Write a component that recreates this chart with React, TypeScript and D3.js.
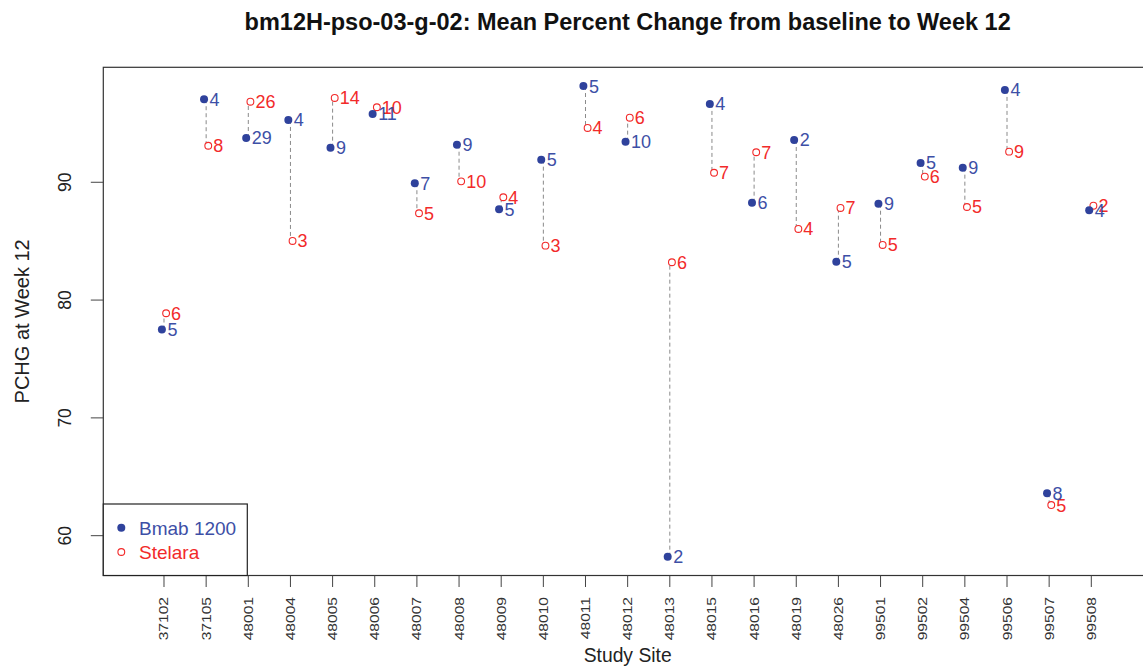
import React from "react";
import * as d3 from "d3";

// Study sites along the x axis
const sites = [
  "37102", "37105", "48001", "48004", "48005", "48006", "48007", "48008",
  "48009", "48010", "48011", "48012", "48013", "48015", "48016", "48019",
  "48026", "99501", "99502", "99504", "99506", "99507", "99508",
];

// Mean percent change at week 12 per site, Bmab 1200 arm
const bmabMean = [
  77.5, 97.05, 93.76, 95.29, 92.94, 95.8, 89.92, 93.19, 87.71, 91.92, 98.17,
  93.45, 58.22, 96.65, 88.27, 93.59, 83.26, 88.18, 91.64, 91.24, 97.84, 63.6,
  87.62,
];
// Number of subjects per site, Bmab 1200 arm
const bmabN = [5, 4, 29, 4, 9, 11, 7, 9, 5, 5, 5, 10, 2, 4, 6, 2, 5, 9, 5, 9, 4, 8, 4];

// Mean percent change at week 12 per site, Stelara arm
const stelaraMean = [
  78.88, 93.1, 96.84, 85.02, 97.16, 96.37, 87.37, 90.08, 88.73, 84.62, 94.61,
  95.48, 83.21, 90.81, 92.55, 86.04, 87.82, 84.68, 90.48, 87.9, 92.6, 62.6,
  88.01,
];
// Number of subjects per site, Stelara arm
const stelaraN = [6, 8, 26, 3, 14, 10, 5, 10, 4, 3, 4, 6, 6, 7, 7, 4, 7, 5, 6, 5, 9, 5, 2];

const yTicks = [60, 70, 80, 90];

const W = 1143;
const H = 667;
const plot = { left: 103.3, top: 67.3, right: 1152, bottom: 575.5 };

const BLUE = "#2f429c";
const BLUE_TEXT = "#3d4fa6";
const RED = "#f22a2a";
const FONT = "'Liberation Sans', Arial, Helvetica, sans-serif";

export default function App() {
  const x = d3
    .scaleLinear()
    .domain([-1.44, 23.44])
    .range([plot.left, plot.right]);
  const y = d3
    .scaleLinear()
    .domain([56.62, 99.76])
    .range([plot.bottom, plot.top]);

  const dx = 0.05; // small horizontal dodge between the two arms

  return (
    <div style={{ position: "absolute", left: 0, top: 0 }}>
      <svg
        width={W}
        height={H}
        viewBox={`0 0 ${W} ${H}`}
        style={{ display: "block", background: "#fff", overflow: "hidden" }}
        fontFamily={FONT}
      >
        {/* title */}
        <text
          x={(plot.left + plot.right) / 2}
          y={30}
          textAnchor="middle"
          fontWeight="bold"
          fontSize={23.5}
          fill="#111"
        >
          bm12H-pso-03-g-02: Mean Percent Change from baseline to Week 12
        </text>

        {/* connecting dashed segments */}
        {sites.map((s, i) => (
          <line
            key={"seg" + s}
            x1={x(i)}
            x2={x(i)}
            y1={y(bmabMean[i])}
            y2={y(stelaraMean[i])}
            stroke="#8a8a8a"
            strokeWidth={1}
            strokeDasharray="4,3"
          />
        ))}

        {/* Stelara points and labels */}
        {sites.map((s, i) => (
          <g key={"st" + s}>
            <circle
              cx={x(i + dx)}
              cy={y(stelaraMean[i])}
              r={3.4}
              fill="#fff"
              stroke={RED}
              strokeWidth={1.1}
            />
            <text
              x={x(i + dx) + 5}
              y={y(stelaraMean[i])}
              dy="0.36em"
              fontSize={18}
              fill={RED}
            >
              {stelaraN[i]}
            </text>
          </g>
        ))}

        {/* Bmab points and labels */}
        {sites.map((s, i) => (
          <g key={"bm" + s}>
            <circle cx={x(i - dx)} cy={y(bmabMean[i])} r={4} fill={BLUE} />
            <text
              x={x(i - dx) + 5.5}
              y={y(bmabMean[i])}
              dy="0.36em"
              fontSize={18}
              fill={BLUE_TEXT}
            >
              {bmabN[i]}
            </text>
          </g>
        ))}

        {/* plot frame */}
        <rect
          x={plot.left}
          y={plot.top}
          width={plot.right - plot.left}
          height={plot.bottom - plot.top}
          fill="none"
          stroke="#333"
          strokeWidth={1.2}
        />

        {/* y axis */}
        {yTicks.map((t) => (
          <g key={"yt" + t}>
            <line
              x1={plot.left - 12.5}
              x2={plot.left}
              y1={y(t)}
              y2={y(t)}
              stroke="#444"
              strokeWidth={1}
            />
            <text
              transform={`translate(71,${y(t)}) rotate(-90)`}
              textAnchor="middle"
              fontSize={17.5}
              fill="#222"
            >
              {t}
            </text>
          </g>
        ))}
        <text
          transform={`translate(29,${(plot.top + plot.bottom) / 2}) rotate(-90)`}
          textAnchor="middle"
          fontSize={20}
          fill="#222"
        >
          PCHG at Week 12
        </text>

        {/* x axis */}
        {sites.map((s, i) => (
          <g key={"xt" + s}>
            <line
              x1={x(i)}
              x2={x(i)}
              y1={plot.bottom}
              y2={plot.bottom + 11.5}
              stroke="#444"
              strokeWidth={1}
            />
            <text
              transform={`translate(${x(i) + 4.5},597) rotate(-90) scale(1.3,1)`}
              textAnchor="end"
              fontSize={12}
              fill="#333"
            >
              {s}
            </text>
          </g>
        ))}
        <text
          transform={`translate(${(plot.left + plot.right) / 2},662) scale(0.92,1)`}
          textAnchor="middle"
          fontSize={21}
          fill="#222"
        >
          Study Site
        </text>

        {/* legend */}
        <rect
          x={plot.left}
          y={504}
          width={144}
          height={plot.bottom - 504}
          fill="#fff"
          stroke="#222"
          strokeWidth={1.2}
        />
        <circle cx={121.3} cy={527.7} r={4} fill={BLUE} />
        <text x={139} y={527.7} dy="0.36em" fontSize={19} fill={BLUE_TEXT}>
          Bmab 1200
        </text>
        <circle cx={121.3} cy={552} r={3.4} fill="#fff" stroke={RED} strokeWidth={1.1} />
        <text x={139} y={552} dy="0.36em" fontSize={19} fill={RED}>
          Stelara
        </text>
      </svg>
    </div>
  );
}
